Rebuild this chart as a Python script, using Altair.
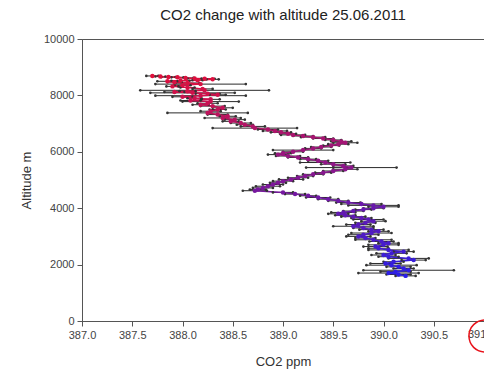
import altair as alt
import pandas as pd

altitude = [8690, 8670, 8650, 8640, 8620, 8600, 8590, 8570, 8540, 8520, 8500, 8470, 8440, 8400,
            8360, 8320, 8280, 8230, 8180, 8150, 8120, 8090, 8060, 8020, 7990, 7950, 7900, 7860,
            7820, 7780, 7720, 7670, 7620, 7560, 7500, 7440, 7380, 7320, 7260, 7200, 7140, 7080,
            7020, 6960, 6900, 6840, 6790, 6740, 6690, 6640, 6600, 6560, 6520, 6470, 6420, 6370,
            6320, 6270, 6220, 6170, 6120, 6060, 6000, 5950, 5900, 5850, 5800, 5740, 5680, 5620,
            5560, 5500, 5440, 5380, 5320, 5260, 5200, 5140, 5080, 5020, 4960, 4900, 4840, 4780,
            4720, 4660, 4620, 4560, 4500, 4440, 4380, 4320, 4260, 4200, 4150, 4100, 4050, 4000,
            3950, 3900, 3850, 3800, 3750, 3700, 3650, 3600, 3540, 3480, 3420, 3360, 3300, 3240,
            3180, 3120, 3060, 3000, 2940, 2880, 2820, 2760, 2700, 2640, 2580, 2520, 2460, 2400,
            2340, 2280, 2220, 2160, 2100, 2040, 1980, 1920, 1860, 1800, 1750, 1700, 1650, 1600]

co2 = [387.70, 387.78, 387.86, 387.95, 388.03, 388.12, 388.22, 388.30, 388.15, 387.98, 387.85, 387.92, 388.05, 388.18,
       388.00, 387.90, 388.05, 388.20, 388.22, 388.05, 387.92, 388.10, 388.25, 388.35, 388.18, 388.00, 388.12, 388.28,
       388.08, 388.28, 388.25, 388.18, 388.30, 388.40, 388.35, 388.28, 388.25, 388.35, 388.45, 388.40, 388.52, 388.48,
       388.58, 388.62, 388.70, 388.72, 388.85, 388.92, 388.98, 389.05, 389.10, 389.20, 389.30, 389.40, 389.50, 389.58,
       389.62, 389.55, 389.48, 389.38, 389.30, 389.20, 389.10, 389.00, 388.95, 389.05, 389.15, 389.25, 389.35, 389.42,
       389.50, 389.60, 389.68, 389.62, 389.50, 389.40, 389.30, 389.22, 389.15, 389.08, 389.00, 388.95, 388.90, 388.85,
       388.80, 388.75, 388.72, 389.00, 389.12, 389.25, 389.35, 389.45, 389.55, 389.65, 389.78, 389.90, 390.00, 389.90,
       389.80, 389.70, 389.60, 389.55, 389.62, 389.70, 389.78, 389.85, 389.90, 389.82, 389.75, 389.70, 389.80, 389.88,
       389.95, 389.88, 389.80, 389.75, 389.82, 389.90, 389.98, 390.05, 390.00, 389.92, 389.95, 390.05, 390.20, 390.08,
       390.00, 390.05, 390.25, 390.30, 390.10, 390.02, 390.08, 390.15, 390.20, 390.25, 390.12, 390.05, 390.15, 390.22]

err = [0.06, 0.05, 0.07, 0.06, 0.08, 0.07, 0.10, 0.06, 0.05, 0.09, 0.10, 0.07, 0.12, 0.45,
       0.08, 0.06, 0.07, 0.10, 0.64, 0.08, 0.10, 0.42, 0.12, 0.08, 0.45, 0.10, 0.07, 0.09,
       0.10, 0.28, 0.10, 0.08, 0.12, 0.10, 0.08, 0.10, 0.40, 0.10, 0.08, 0.18, 0.10, 0.08,
       0.10, 0.08, 0.12, 0.42, 0.10, 0.12, 0.10, 0.08, 0.12, 0.10, 0.12, 0.10, 0.08, 0.10,
       0.12, 0.10, 0.08, 0.10, 0.08, 0.30, 0.10, 0.08, 0.10, 0.12, 0.10, 0.08, 0.10, 0.25,
       0.12, 0.10, 0.45, 0.12, 0.10, 0.08, 0.10, 0.08, 0.10, 0.12, 0.10, 0.08, 0.10, 0.12,
       0.10, 0.08, 0.12, 0.10, 0.10, 0.08, 0.12, 0.10, 0.10, 0.12, 0.20, 0.25, 0.15, 0.10,
       0.08, 0.10, 0.12, 0.10, 0.10, 0.12, 0.10, 0.15, 0.12, 0.10, 0.12, 0.20, 0.10, 0.12,
       0.10, 0.20, 0.15, 0.12, 0.10, 0.18, 0.12, 0.10, 0.15, 0.12, 0.10, 0.20, 0.10, 0.15,
       0.12, 0.10, 0.20, 0.12, 0.10, 0.15, 0.25, 0.12, 0.10, 0.45, 0.15, 0.30, 0.12, 0.10]

x_ticks = [387.0, 387.5, 388.0, 388.5, 389.0, 389.5, 390.0, 390.5, 391.0]
y_ticks = [0, 2000, 4000, 6000, 8000, 10000]
last_tick = [391.0]
last_tick_text = ["391."]

df = pd.DataFrame({"alt": altitude, "co2": co2, "err": err})
df["lo"] = df["co2"] - df["err"]
df["hi"] = df["co2"] + df["err"]
df["co2_next"] = df["co2"].shift(-1)
df["alt_next"] = df["alt"].shift(-1)
seg = df.dropna()

font = "Liberation Sans"
xscale = alt.Scale(domain=[387, 391], nice=False, zero=False)
yscale = alt.Scale(domain=[0, 10000], nice=False, zero=True)
xaxis = alt.Axis(values=x_ticks, format=".1f", grid=False, labelFlush=False, labelOverlap=False,
                 labelPadding=3, titlePadding=15,
                 labelExpr="datum.value >= 391 ? '' : datum.label")
yaxis = alt.Axis(values=y_ticks, format="d", grid=False, labelPadding=3, titlePadding=10)
cscale = alt.Scale(domain=[1600, 8700], range=["#2a1ee8", "#e0103c"], interpolate="rgb")

X = lambda f: alt.X(f, type="quantitative", scale=xscale, axis=xaxis, title="CO2 ppm")
Y = lambda f: alt.Y(f, type="quantitative", scale=yscale, axis=yaxis, title="Altitude m")

base = alt.Chart(df)
line = alt.Chart(seg).mark_rule(strokeWidth=1.5).encode(
    x=X("co2"), x2="co2_next:Q", y=Y("alt"), y2="alt_next:Q",
    color=alt.Color("alt:Q", scale=cscale, legend=None))
bars = base.mark_rule(color="#2a2a2a", strokeWidth=1).encode(x=X("lo"), x2="hi:Q", y=Y("alt"))
caps_lo = base.mark_circle(color="#333333", size=7, opacity=1).encode(x=X("lo"), y=Y("alt"))
caps_hi = base.mark_circle(color="#333333", size=7, opacity=1).encode(x=X("hi"), y=Y("alt"))
pts = base.mark_circle(size=20, opacity=1).encode(
    x=X("co2"), y=Y("alt"), color=alt.Color("alt:Q", scale=cscale, legend=None))

tick_df = pd.DataFrame({"x": last_tick, "t": last_tick_text})
last_label = alt.Chart(tick_df).mark_text(
    align="left", baseline="top", dx=-16, font=font, fontSize=11, color="#444444", clip=False
).encode(x=X("x"), y=alt.value(290), text="t:N")

# red highlight ring around the last tick label
ring = alt.Chart(tick_df).mark_arc(color="#e8141c", clip=False).encode(
    x=alt.value(403), y=alt.value(297),
    radius=alt.value(16.8), radius2=alt.value(15.3),
    theta=alt.value(0), theta2=alt.value(6.2832))

chart = alt.layer(bars, line, caps_lo, caps_hi, pts, last_label, ring).properties(
    width=402, height=282,
    title=alt.TitleParams("CO2 change with altitude 25.06.2011", font=font, fontSize=15,
                          fontWeight="normal", color="#222222", anchor="middle", offset=10),
    autosize=alt.AutoSizeParams(type="none"),
    padding={"left": 74, "top": 31, "right": 0, "bottom": 48},
).configure_view(stroke="#555555", strokeWidth=1).configure_axis(
    domainColor="#555555", tickColor="#555555", labelColor="#444444", labelFont=font,
    labelFontSize=11, titleFont=font, titleFontSize=13, titleFontWeight="normal",
    titleColor="#333333", tickSize=5
)

chart.save("out.html", embed_options={"renderer": "svg", "actions": False})
